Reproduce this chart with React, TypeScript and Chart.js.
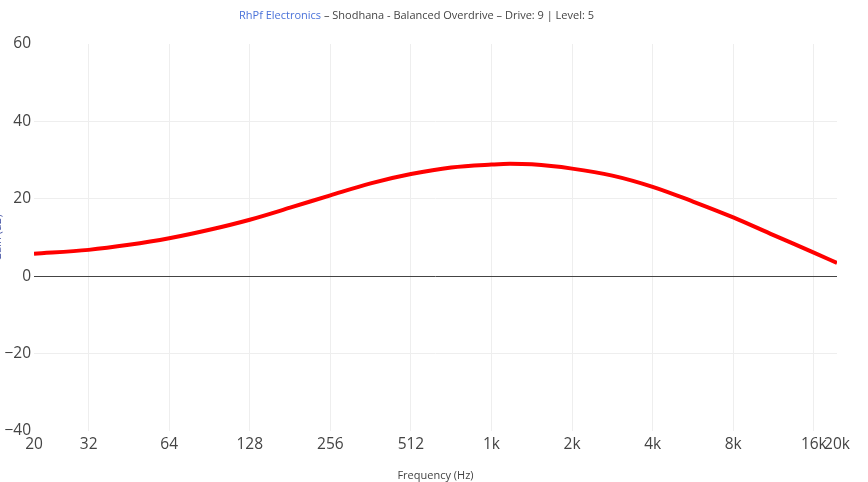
import React, { useEffect, useRef } from "react";
import { Chart, registerables } from "chart.js";

Chart.register(...registerables);

const TITLE_BRAND = "RhPf Electronics";
const TITLE_REST = " – Shodhana - Balanced Overdrive – Drive: 9 | Level: 5";
const X_TITLE = "Frequency (Hz)";
const Y_TITLE = "Gain (dB)";

const frequencies = [20, 32, 45.25, 64, 90.5, 128, 181, 256, 362, 512, 724, 1024, 1200, 1448, 2048, 2896, 4096, 5793, 8192, 11585, 16384, 20000];
const gainDb = [5.8, 6.8, 8.1, 9.8, 12.0, 14.6, 17.7, 20.9, 24.0, 26.4, 28.1, 28.85, 29.05, 28.9, 27.8, 26.0, 23.1, 19.3, 15.2, 10.6, 6.1, 3.4];

const xTickValues = [20, 32, 64, 128, 256, 512, 1024, 2048, 4096, 8192, 16384, 20000];
const xTickLabels = ["20", "32", "64", "128", "256", "512", "1k", "2k", "4k", "8k", "16k", "20k"];
const yTickValues = [-40, -20, 0, 20, 40, 60];

export default function App() {
  const canvasRef = useRef<HTMLCanvasElement | null>(null);

  useEffect(() => {
    document.body.style.margin = "0";
    const canvas = canvasRef.current;
    if (!canvas) return;

    const titlePlugin = {
      id: "multiTitle",
      afterDraw(chart: any) {
        const ctx = chart.ctx;
        ctx.save();
        ctx.font = '11px "Open Sans"';
        ctx.textBaseline = "alphabetic";
        ctx.textAlign = "left";
        const w1 = ctx.measureText(TITLE_BRAND).width;
        const w2 = ctx.measureText(TITLE_REST).width;
        const start = 416.5 - (w1 + w2) / 2;
        ctx.fillStyle = "#4a72d9";
        ctx.fillText(TITLE_BRAND, start, 19);
        ctx.fillStyle = "#444";
        ctx.fillText(TITLE_REST, start + w1, 19);
        ctx.restore();
      },
    };

    const chart = new Chart(canvas, {
      type: "line",
      data: {
        datasets: [
          {
            data: frequencies.map((f, i) => ({ x: f, y: gainDb[i] })),
            borderColor: "#ff0000",
            borderWidth: 4,
            pointRadius: 0,
            cubicInterpolationMode: "monotone",
            fill: false,
          },
        ],
      },
      options: {
        animation: false,
        responsive: false,
        layout: { padding: { top: 44, right: 31, bottom: 0, left: 0 } },
        plugins: { legend: { display: false }, tooltip: { enabled: false }, title: { display: false } },
        scales: {
          x: {
            type: "logarithmic",
            min: 20,
            max: 20000,
            afterBuildTicks(scale: any) {
              scale.ticks = xTickValues.map((v) => ({ value: v }));
            },
            afterFit(scale: any) {
              scale.height = 51;
            },
            ticks: {
              autoSkip: false,
              maxRotation: 0,
              padding: 4,
              color: "#444",
              font: { family: "Open Sans", size: 15.5 },
              callback: (v: any) => {
                const i = xTickValues.indexOf(Number(v));
                return i >= 0 ? xTickLabels[i] : "";
              },
            },
            grid: {
              drawTicks: false,
              tickLength: 0,
              color: (c: any) => {
                const v = c.tick && c.tick.value;
                return v === 20 || v === 20000 ? "rgba(0,0,0,0)" : "#eeeeee";
              },
              lineWidth: 1,
            },
            border: { display: false },
            title: {
              display: true,
              text: X_TITLE,
              color: "#444",
              font: { family: "Open Sans", size: 11 },
              padding: { top: 8, bottom: 0 },
            },
          },
          y: {
            type: "linear",
            min: -40,
            max: 60,
            afterBuildTicks(scale: any) {
              scale.ticks = yTickValues.map((v) => ({ value: v }));
            },
            afterFit(scale: any) {
              scale.width = 34;
            },
            ticks: {
              padding: 3,
              color: "#444",
              font: { family: "Open Sans", size: 15.5 },
              callback: (v: any) => String(v).replace("-", "\u2212"),
            },
            grid: {
              drawTicks: false,
              tickLength: 0,
              color: (c: any) => {
                const v = c.tick && c.tick.value;
                if (v === 0) return "#444444";
                if (v === 60 || v === -40) return "rgba(0,0,0,0)";
                return "#eeeeee";
              },
              lineWidth: 1,
            },
            border: { display: false },
            title: {
              display: true,
              text: Y_TITLE,
              color: "#3b4ba0",
              font: { family: "Open Sans", size: 11 },
              padding: { top: -9, bottom: 0 },
            },
          },
        },
      },
      plugins: [titlePlugin],
    } as any);

    return () => chart.destroy();
  }, []);

  return (
    <div style={{ width: 868, height: 482, background: "#fff" }}>
      <canvas ref={canvasRef} width={868} height={482} style={{ display: "block" }} />
    </div>
  );
}
